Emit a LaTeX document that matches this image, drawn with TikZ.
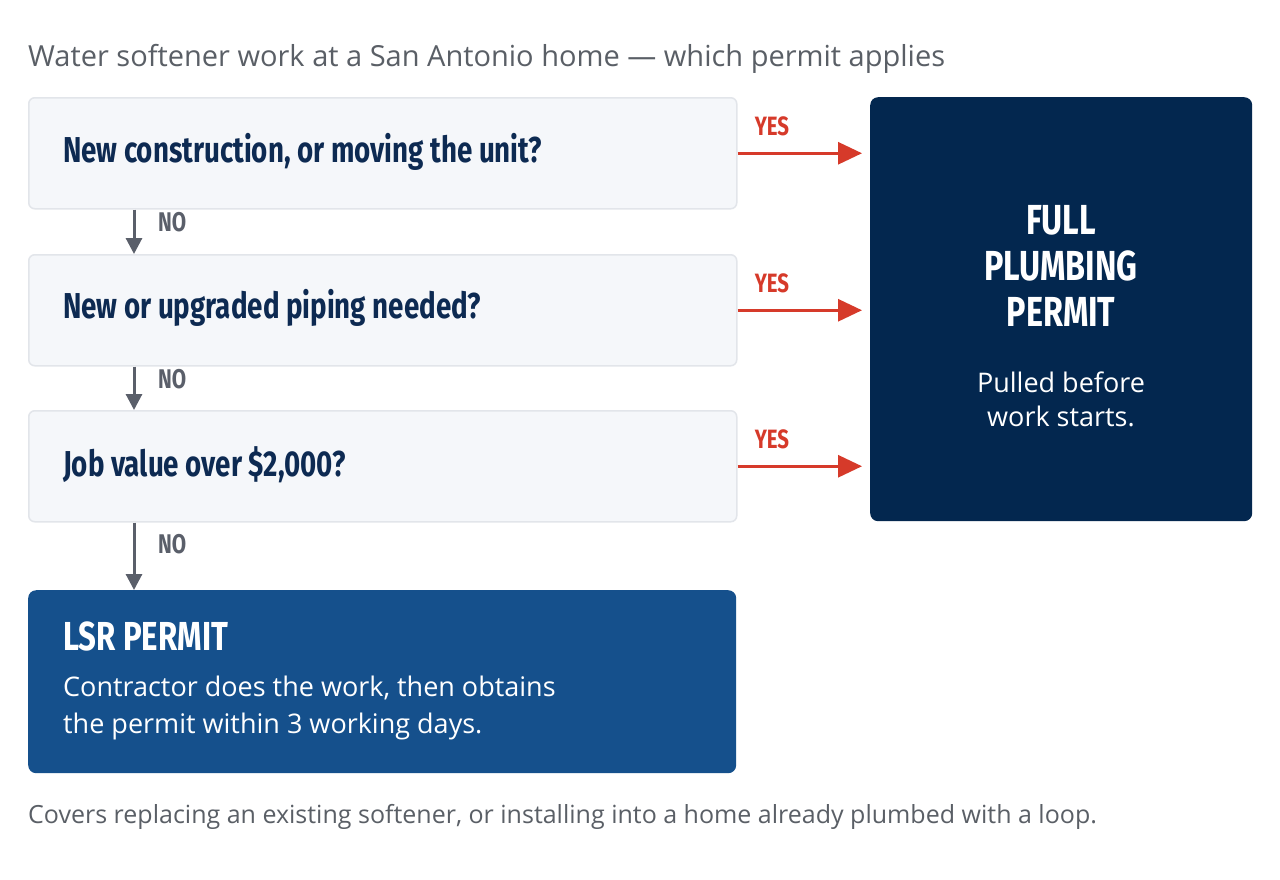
\documentclass[tikz,border=0pt]{standalone}
\usepackage{fontspec}
\setmainfont{Open Sans}
\newfontfamily\cond[FakeStretch=0.77]{Fira Sans}
\usetikzlibrary{arrows.meta}
\definecolor{titlegray}{HTML}{5A5F66}
\definecolor{qfill}{HTML}{F5F7FA}
\definecolor{qborder}{HTML}{E2E5EA}
\definecolor{navy}{HTML}{0D2A52}
\definecolor{fullfill}{HTML}{03274F}
\definecolor{lsrfill}{HTML}{15508C}
\definecolor{yesred}{HTML}{D63A2A}
\definecolor{nogray}{HTML}{5A5F6A}
\tikzset{
  qbox/.style={draw=qborder, line width=1.5pt, fill=qfill, rounded corners=6pt,
    minimum width=708pt, minimum height=111pt, anchor=north west, inner sep=0pt},
  qtext/.style={anchor=west, text=navy, font=\cond\bfseries\fontsize{36}{40}\selectfont, inner sep=0pt},
  yesarrow/.style={draw=yesred, line width=3pt, -{Triangle[length=24pt,width=22pt]}, shorten >=8pt},
  yeslabel/.style={text=yesred, font=\cond\bfseries\fontsize{26.5}{30}\selectfont, inner sep=0pt},
  noarrow/.style={draw=nogray, line width=3pt, -{Triangle[length=16pt,width=16pt]}},
  nolabel/.style={text=nogray, font=\cond\bfseries\fontsize{27}{30}\selectfont, inner sep=0pt, anchor=west},
}
\begin{document}
\begin{tikzpicture}[x=1pt,y=-1pt]
\useasboundingbox (0,0) rectangle (1280,879);
\fill[white] (0,0) rectangle (1280,879);
\node[anchor=base west, inner sep=0pt, text=titlegray, font=\fontsize{29}{33}\selectfont] (title) at (28,66) {Water softener work at a San Antonio home — which permit applies};
% question boxes
\node[qbox] (q1) at (28,97) {};
\node[qbox] (q2) at (28,254) {};
\node[qbox] (q3) at (28,410) {};
\node[qtext] (t1) at (63,152) {New construction, or moving the unit?};
\node[qtext] (t2) at (63,308) {New or upgraded piping needed?};
\node[qtext] (t3) at (63,465) {Job value over \$2,000?};
% full permit box
\node[fill=fullfill, rounded corners=8pt, minimum width=382pt, minimum height=424pt, anchor=north west, inner sep=0pt] (full) at (870,97) {};
\node[text=white, align=center, inner sep=0pt, font=\cond\bfseries\fontsize{42}{46}\selectfont] (fullt) at (1061,266) {FULL\\PLUMBING\\PERMIT};
\node[text=white, align=center, inner sep=0pt, font=\fontsize{27}{34}\selectfont] (fulls) at (1061,399) {Pulled before\\work starts.};
% LSR box
\node[fill=lsrfill, rounded corners=8pt, minimum width=708pt, minimum height=183pt, anchor=north west, inner sep=0pt] (lsr) at (28,590) {};
\node[anchor=west, text=white, inner sep=0pt, font=\cond\bfseries\fontsize{40.5}{44}\selectfont] (lsrt) at (63,636) {LSR PERMIT};
\node[anchor=west, text=white, inner sep=0pt, align=left, font=\fontsize{27}{37}\selectfont] (lsrs) at (63,708) {Contractor does the work, then obtains\\the permit within 3 working days.};
% footer
\node[anchor=base west, inner sep=0pt, text=titlegray, font=\fontsize{25}{29}\selectfont] (foot) at (28,823) {Covers replacing an existing softener, or installing into a home already plumbed with a loop.};
% YES arrows
\draw[yesarrow] (q1.east) -- (q1.east -| full.west);
\draw[yesarrow] (q2.east) -- (q2.east -| full.west);
\draw[yesarrow] (q3.east) -- (q3.east -| full.west);
\node[yeslabel] (y1) at (772,126) {YES};
\node[yeslabel] (y2) at (772,283) {YES};
\node[yeslabel] (y3) at (772,439) {YES};
% NO arrows
\coordinate (ax) at (134,0);
\draw[noarrow] (q1.south -| ax) -- (q2.north -| ax);
\draw[noarrow] (q2.south -| ax) -- (q3.north -| ax);
\draw[noarrow] (q3.south -| ax) -- (lsr.north -| ax);
\node[nolabel] (n1) at (158,222) {NO};
\node[nolabel] (n2) at (158,379) {NO};
\node[nolabel] (n3) at (158,544) {NO};
\end{tikzpicture}
\end{document}
